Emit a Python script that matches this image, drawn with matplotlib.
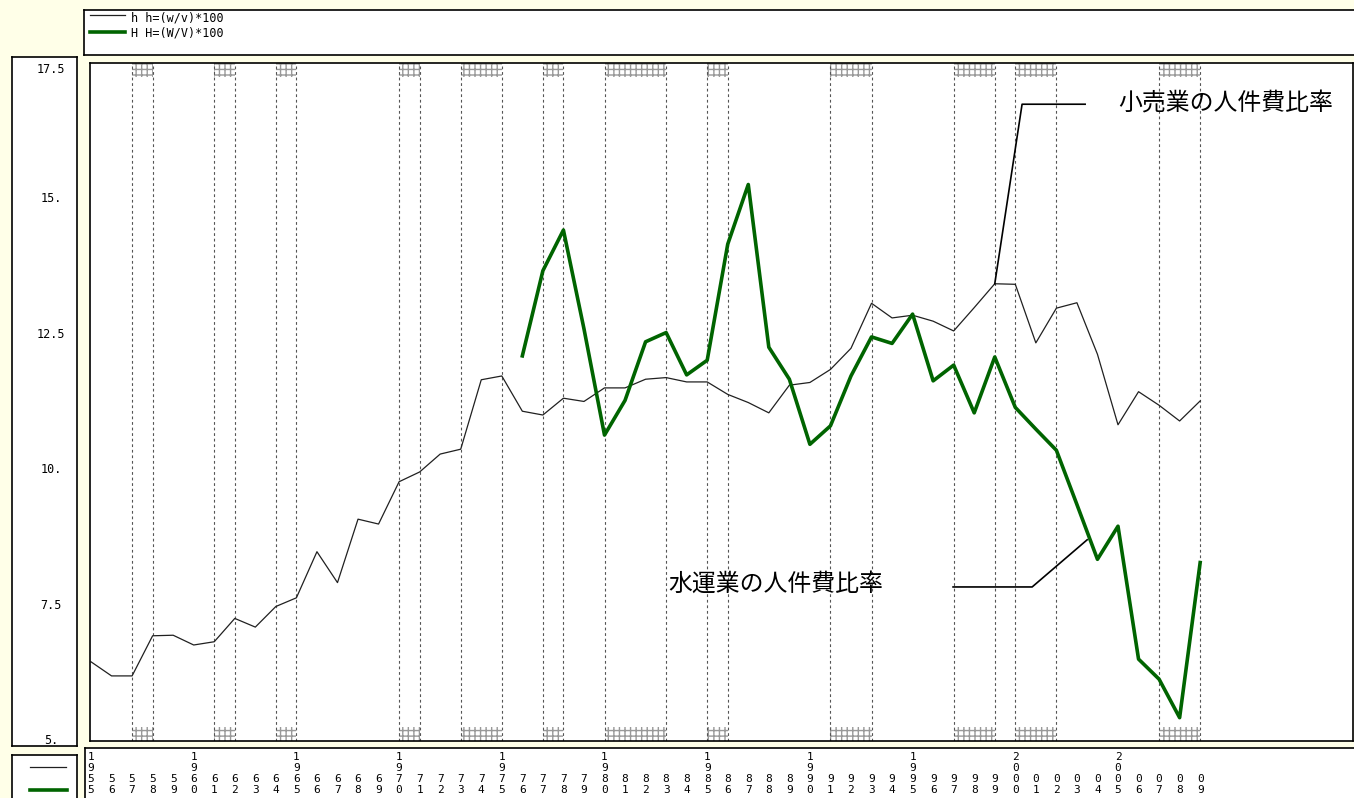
import numpy as np
import matplotlib
matplotlib.use('Agg')
import matplotlib.pyplot as plt
from matplotlib.transforms import blended_transform_factory

# data
years = np.arange(1955, 2010)
retail = [6.46, 6.20, 6.20, 6.94, 6.95, 6.77, 6.83, 7.26, 7.10, 7.48,
          7.64, 8.49, 7.92, 9.09, 9.00, 9.78, 9.96, 10.29, 10.38, 11.66,
          11.73, 11.08, 11.01, 11.32, 11.26, 11.51, 11.51, 11.67, 11.70, 11.62,
          11.62, 11.39, 11.24, 11.05, 11.56, 11.61, 11.85, 12.24, 13.07, 12.80,
          12.85, 12.74, 12.56, 12.99, 13.43, 13.42, 12.34, 12.98, 13.08, 12.13,
          10.83, 11.44, 11.19, 10.90, 11.27]
water_years = np.arange(1976, 2010)
water = [12.10, 13.67, 14.42, 12.60, 10.64, 11.28, 12.36, 12.53, 11.75, 12.02,
         14.16, 15.26, 12.26, 11.67, 10.47, 10.81, 11.73, 12.45, 12.33, 12.87,
         11.64, 11.93, 11.05, 12.08, 11.15, 10.75, 10.36, 9.36, 8.35, 8.96,
         6.51, 6.14, 5.43, 8.29]
recessions = [(1957, 1958), (1961, 1962), (1964, 1965), (1970, 1971),
              (1973, 1975), (1977, 1978), (1980, 1983), (1985, 1986),
              (1991, 1993), (1997, 1999), (2000, 2002), (2007, 2009)]
yticks = [5, 7.5, 10, 12.5, 15, 17.5]
ytick_labels = ['5.', '7.5', '10.', '12.5', '15.', '17.5']
legend_labels = ['h h=(w/v)*100', 'H H=(W/V)*100']
note_retail = '小売業の人件費比率'
note_water = '水運業の人件費比率'
retail_leader_x = [2003.4, 2000.33, 1999]
retail_leader_y = [16.74, 16.74, retail[1999 - 1955]]
water_leader_x = [1996.97, 2000.82, 2003.5]
water_leader_y = [7.84, 7.84, 8.71]

W, H = 1354, 798
fig = plt.figure(figsize=(W / 100, H / 100), dpi=100, facecolor='#ffffe8')


def box(l, t, r, b):
    a = fig.add_axes([l / W, 1 - b / H, (r - l) / W, (b - t) / H])
    a.set_xticks([])
    a.set_yticks([])
    a.set_facecolor('white')
    for s in a.spines.values():
        s.set_color('black')
        s.set_linewidth(1.2)
    return a


mono = 'DejaVu Sans Mono'
cjk = ['Noto Sans CJK JP', 'DejaVu Sans']
green = '#006400'

# main plot
ax = box(90, 63, 1353, 741)
ax.set_xlim(1955 - 1 / 20.54, 1955 + 1262 / 20.54)
ax.set_ylim(5, 17.5)

for a, b in recessions:
    for x in (a, b):
        ax.axvline(x, color='#555555', lw=0.8, ls=(0, (2.5, 2.5)))
    for y0, y1 in ((0, 0.021), (0.979, 1)):
        ax.axvspan(a, b, ymin=y0, ymax=y1, facecolor='none',
                   edgecolor='#999999', hatch='+++', lw=0)

ax.plot(years, retail, color='#202020', lw=0.9)
ax.plot(water_years, water, color=green, lw=2.6)

ax.plot(retail_leader_x, retail_leader_y, color='black', lw=1.2)
ax.plot(water_leader_x, water_leader_y, color='black', lw=1.2)
ax.text(2005.0, 16.74, note_retail, fontsize=17.2, va='center', family=cjk)
ax.text(1983.1, 7.89, note_water, fontsize=17.2, va='center', family=cjk)

# y label panel
box(12, 57, 77, 746)
ytrans = blended_transform_factory(fig.transFigure, ax.transData)
for i, (v, lab) in enumerate(zip(yticks, ytick_labels)):
    va = 'top' if i == len(yticks) - 1 else 'center'
    fig.text(51 / W, v, lab, transform=ytrans, ha='center', va=va,
             fontsize=8.5, family=mono)

# x label panel
box(85, 748, 1360, 805)
xtrans = blended_transform_factory(ax.transData, fig.transFigure)
for yr in years:
    s = str(yr) if yr % 5 == 0 else str(yr)[2:]
    fig.text(yr, 3 / H, '\n'.join(s), transform=xtrans, ha='center',
             va='bottom', fontsize=8, family=mono, linespacing=1.12)

# legend panel at top
lg = box(84, 10, 1360, 55)
lg.set_xlim(0, 1276)
lg.set_ylim(45, 0)
lg.plot([6, 41], [5, 5], color='#202020', lw=0.9)
lg.plot([6, 41], [22, 22], color=green, lw=2.6)
lg.text(47, 8, legend_labels[0], fontsize=8.5, family=mono, va='center')
lg.text(47, 23, legend_labels[1], fontsize=8.5, family=mono, va='center')

# legend panel bottom left
bl = box(12, 755, 77, 805)
bl.set_xlim(0, 65)
bl.set_ylim(50, 0)
bl.plot([18, 54], [12, 12], color='#202020', lw=0.9)
bl.plot([18, 55], [35, 35], color=green, lw=2.6)

fig.savefig('out.png', dpi=100, facecolor=fig.get_facecolor())
